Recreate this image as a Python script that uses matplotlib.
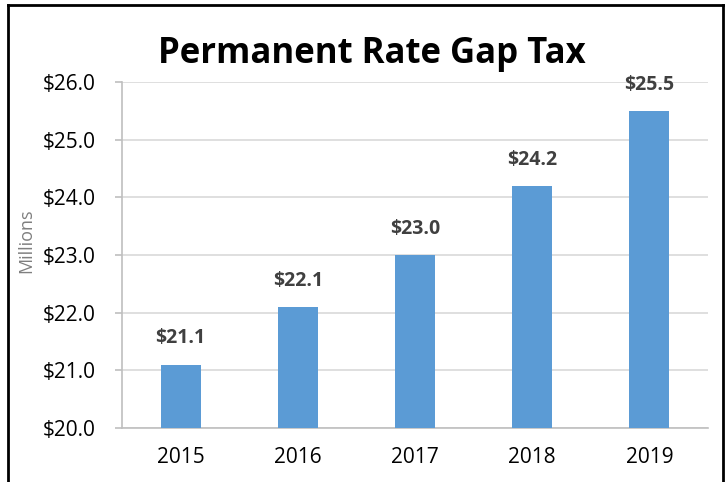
import matplotlib.pyplot as plt
from matplotlib.lines import Line2D

years = ["2015", "2016", "2017", "2018", "2019"]
values = [21.1, 22.1, 23.0, 24.2, 25.5]
yticks = [20.0, 21.0, 22.0, 23.0, 24.0, 25.0, 26.0]

plt.rcParams["font.family"] = ["Open Sans", "DejaVu Sans"]

fig = plt.figure(figsize=(7.26, 4.82), dpi=100)
ax = fig.add_axes([122 / 726, 1 - 428 / 482, (708 - 122) / 726, (428 - 82) / 482])

x = range(len(years))
ax.bar(x, [v - 20.0 for v in values], bottom=20.0, width=0.34, color="#5B9BD5", zorder=3)

for i, v in enumerate(values):
    ax.text(i, v + 0.28, "$%.1f" % v, ha="center", va="bottom",
            fontsize=14, fontweight="bold", color="#404040")

ax.set_ylim(20, 26)
ax.set_xlim(-0.5, 4.5)
ax.set_yticks(yticks)
ax.set_yticklabels(["$%.1f" % t for t in yticks], fontsize=15)
ax.set_xticks(list(x))
ax.set_xticklabels(years, fontsize=15)
ax.tick_params(axis="x", length=0, pad=14)
ax.tick_params(axis="y", length=5, color="#BFBFBF", width=1.2, pad=14)
ax.yaxis.grid(True, color="#D9D9D9", linewidth=1.2, zorder=0)
ax.set_axisbelow(True)

for side in ["left", "bottom"]:
    ax.spines[side].set_color("#BFBFBF")
    ax.spines[side].set_linewidth(1.2)
ax.spines["top"].set_visible(False)
ax.spines["right"].set_visible(False)

ax.set_ylabel("Millions", fontsize=13, color="#7F7F7F")
ax.yaxis.set_label_coords(-0.148, 0.54)

fig.text(372 / 726, 1 - 54 / 482, "Permanent Rate Gap Tax", ha="center", va="center",
         fontsize=25, fontweight="bold")

# outer frame
fig.add_artist(Line2D([8 / 726, 8 / 726], [0, 1 - 5 / 482], color="black", lw=2))
fig.add_artist(Line2D([8 / 726, 723 / 726], [1 - 5 / 482, 1 - 5 / 482], color="black", lw=2))
fig.add_artist(Line2D([723 / 726, 723 / 726], [0, 1 - 5 / 482], color="black", lw=2))

fig.savefig("out.png", dpi=100)
